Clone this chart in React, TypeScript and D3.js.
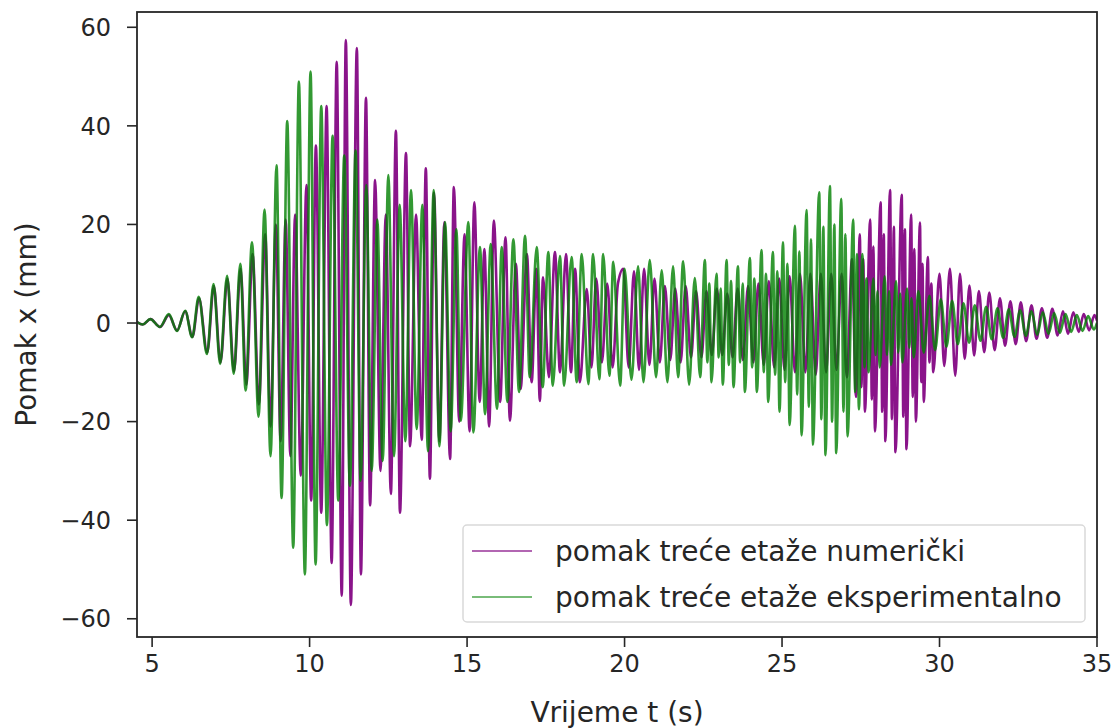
import React from "react";
import * as d3 from "d3";

const xTicks = [5, 10, 15, 20, 25, 30, 35];
const yTicks = [-60, -40, -20, 0, 20, 40, 60];
const seriesLabels = ["pomak treće etaže numerički", "pomak treće etaže eksperimentalno"];
const xLabel = "Vrijeme t (s)";
const yLabel = "Pomak x (mm)";

// numerical (purple) extrema [t, mm]
const numericalOnset: [number, number][] = [
  [4.52, 0.2], [4.7, -0.3], [4.95, 0.8], [5.25, -0.8], [5.53, 1.6], [5.79, -1.5], [6.05, 2.4], [6.28, -2.8],
  [6.49, 5.0], [6.75, -6.0], [6.96, 7.5], [7.17, -8.0], [7.39, 9.0], [7.6, -9.8], [7.81, 11.0], [7.99, -12.5],
  [8.19, 14.0], [8.39, -16.5], [8.59, 18.0], [8.76, -21.0], [8.93, 20.0], [9.08, -24.0], [9.24, 21.0], [9.39, -27.0],
  [9.54, 22.0], [9.72, -31.0], [9.9, 28.0], [10.05, -36.0], [10.2, 36.0], [10.37, -38.5], [10.54, 44.0], [10.7, -48.7],
  [10.86, 53.0], [11.02, -55.3], [11.15, 57.4], [11.31, -57.2], [11.5, 55.8], [11.63, -51.0], [11.79, 45.7], [11.92, -37.0],
];
const numericalDecay: [number, number][] = [
  [12.08, 29.0], [12.25, -30.0], [12.42, 22.0], [12.58, -34.7], [12.74, 39.0], [12.87, -38.5], [13.06, 34.5], [13.19, -25.0],
  [13.38, 22.0], [13.56, -23.7], [13.69, 31.4], [13.82, -31.6], [13.95, 26.4], [14.12, -24.0], [14.28, 20.5], [14.46, -27.6],
  [14.58, 27.6], [14.75, -20.0], [14.92, 18.0], [15.08, -22.0], [15.23, 24.5], [15.4, -16.0], [15.55, 15.0], [15.7, -21.0],
  [15.85, 20.8], [16.05, -16.0], [16.22, 17.4], [16.36, -19.8], [16.55, 12.0], [16.7, -13.4], [16.9, 14.0], [17.05, -12.0],
  [17.2, 11.0], [17.31, -15.8], [17.41, 9.3], [17.6, -11.0], [17.79, 14.4], [17.95, -10.0], [18.14, 14.0], [18.3, -10.0],
  [18.43, 11.0], [18.58, -12.0], [18.8, 6.9], [18.95, -9.0], [19.1, 9.0], [19.28, -8.0], [19.45, 8.0], [19.62, -9.0],
  [19.79, 8.0], [19.96, 11.0],
];
const numericalMiddle: [number, number][] = [
  [20.13, -9.0], [20.3, 10.5], [20.46, -9.5], [20.62, 11.0], [20.79, -8.5], [20.95, 9.0], [21.12, -8.0], [21.28, 7.5],
  [21.45, -7.5], [21.61, 7.0], [21.78, -8.0], [21.94, 7.5], [22.11, -7.0], [22.27, 6.5], [22.44, -7.0], [22.6, 6.5],
  [22.77, -6.5], [22.93, 7.0], [23.1, -6.5], [23.26, 6.0], [23.43, -7.0], [23.59, 7.0], [23.76, -7.5], [23.92, 7.5],
  [24.09, -8.0], [24.25, 8.0], [24.42, -8.5], [24.58, 8.5], [24.75, -9.0], [24.91, 9.0], [25.08, -9.5], [25.24, 9.5],
  [25.41, -10.0], [25.57, 10.0], [25.74, -10.0], [25.9, 10.0], [26.07, -10.5], [26.23, 10.0], [26.4, -10.0], [26.56, 10.0],
  [26.73, -9.5], [26.89, 10.0], [27.06, -11.0], [27.22, 13.0], [27.35, -15.0],
];
const numericalSecondBurst: [number, number][] = [
  [27.47, 18.0], [27.52, -13.0], [27.58, 13.0], [27.63, -18.0],
  [27.8, 21.0], [27.85, -15.5], [27.9, 15.5], [27.95, -22.0],
  [28.13, 24.5], [28.18, -18.0], [28.23, 18.0], [28.28, -24.0],
  [28.43, 27.0], [28.49, -19.5], [28.55, 19.5], [28.6, -26.2],
  [28.8, 26.0], [28.85, -19.0], [28.9, 19.0], [28.95, -25.6],
  [29.1, 22.0], [29.15, -15.0], [29.2, 15.0], [29.25, -20.0],
  [29.38, 20.4], [29.42, -12.0], [29.46, 12.0], [29.5, -16.0],
  [29.63, 13.4], [29.68, -8.0], [29.74, 8.0], [29.8, -10.0],
  [30.0, 10.0], [30.15, -8.7], [30.33, 11.0], [30.5, -10.7], [30.65, 10.0], [30.8, -7.3], [30.95, 7.6], [31.1, -6.6],
  [31.25, 6.5], [31.42, -5.9], [31.58, 6.2], [31.75, -5.5], [31.92, 5.0], [32.08, -4.6], [32.25, 4.4], [32.42, -4.3],
  [32.58, 4.2], [32.75, -3.7], [32.92, 3.6], [33.08, -3.2], [33.25, 3.0], [33.42, -3.0], [33.58, 2.9], [33.75, -2.5],
  [33.92, 2.4], [34.08, -2.2], [34.25, 2.2], [34.42, -1.8], [34.58, 1.8], [34.75, -1.5], [34.92, 1.6], [35.0, 0.5],
];

// experimental (green) extrema [t, mm]
const experimentalOnset: [number, number][] = [
  [4.52, 0.2], [4.7, -0.3], [4.94, 0.8], [5.25, -0.8], [5.53, 1.8], [5.79, -1.6], [6.05, 2.5], [6.27, -2.9],
  [6.48, 5.3], [6.74, -6.3], [6.95, 7.9], [7.16, -8.3], [7.38, 9.6], [7.59, -10.3], [7.8, 12.0], [7.97, -13.7],
  [8.17, 16.4], [8.38, -19.0], [8.57, 23.0], [8.76, -27.0], [8.95, 32.0], [9.11, -35.5], [9.29, 41.0], [9.48, -45.6],
  [9.66, 49.0], [9.85, -51.0], [10.03, 51.0], [10.19, -49.0],
];
const experimentalDecay: [number, number][] = [
  [10.37, 44.0], [10.55, -41.0], [10.73, 38.0], [10.91, -36.0], [11.1, 34.0], [11.28, -33.0], [11.46, 35.0], [11.62, -32.0],
  [11.8, 28.0], [11.97, -30.0], [12.15, 21.0], [12.32, -28.0], [12.5, 30.0], [12.68, -27.0], [12.86, 24.0], [13.04, -24.0],
  [13.22, 27.0], [13.4, -21.5], [13.58, 24.0], [13.76, -26.0], [13.94, 27.0], [14.12, -25.0], [14.3, 20.5], [14.48, -22.0],
  [14.66, 19.0], [14.8, -19.8], [15.04, 20.5], [15.2, -22.2], [15.41, 15.4], [15.57, -18.5], [15.75, 16.0], [15.95, -17.4],
  [16.1, 15.4], [16.28, -16.0], [16.47, 17.0], [16.65, -14.0], [16.84, 17.7], [16.99, -11.0], [17.21, 15.4], [17.4, -13.0],
  [17.58, 14.4], [17.72, -12.7], [17.95, 13.6], [18.08, -12.7], [18.32, 13.4], [18.48, -12.0], [18.64, 14.0], [18.85, -12.4],
  [19.0, 14.0], [19.2, -11.4], [19.32, 14.0], [19.52, -10.7], [19.64, 12.4], [19.86, -12.7],
];
const experimentalMiddle: [number, number][] = [
  [20.0, 11.0], [20.22, -11.5], [20.43, 11.5], [20.6, -12.0], [20.8, 12.8], [21.0, -11.0], [21.18, 10.7], [21.36, -12.0],
  [21.54, 11.5], [21.7, -11.0], [21.86, 12.5], [22.05, -12.5], [22.23, 9.1], [22.4, -11.0],
];
const experimentalSecondBurst: [number, number][] = [
  [22.55, 12.8], [22.63, -8.0], [22.69, 8.0], [22.76, -12.0],
  [22.92, 10.0], [22.99, -7.0], [23.05, 7.0], [23.12, -12.5],
  [23.24, 12.8], [23.31, -8.5], [23.38, 8.5], [23.46, -13.0],
  [23.6, 11.5], [23.67, -8.0], [23.75, 8.0], [23.82, -14.0],
  [23.98, 13.2], [24.05, -9.0], [24.12, 9.0], [24.2, -14.0],
  [24.35, 14.8], [24.42, -10.0], [24.49, 10.0], [24.56, -16.0],
  [24.71, 14.4], [24.78, -10.5], [24.85, 10.5], [24.92, -18.0],
  [25.03, 16.4], [25.1, -12.0], [25.17, 12.0], [25.24, -20.7],
  [25.41, 19.7], [25.48, -14.5], [25.55, 14.5], [25.62, -22.8],
  [25.78, 22.9], [25.85, -17.0], [25.92, 17.0], [25.98, -24.7],
  [26.18, 26.5], [26.25, -19.5], [26.31, 19.5], [26.38, -26.8],
  [26.52, 27.8], [26.59, -20.0], [26.66, 20.0], [26.72, -26.4],
  [26.88, 25.2], [26.95, -18.0], [27.01, 18.0], [27.08, -23.0],
  [27.26, 21.0], [27.32, -14.0], [27.38, 14.0], [27.44, -17.5],
  [27.55, 14.0], [27.62, -9.0], [27.68, 9.0], [27.75, -10.0],
  [27.9, 9.0], [27.97, -6.5], [28.03, 6.5], [28.1, -9.0],
  [28.26, 9.5], [28.33, -6.5], [28.4, 6.5], [28.46, -8.5],
  [28.62, 8.5], [28.69, -6.0], [28.75, 6.0], [28.82, -8.0],
  [28.97, 7.0], [29.04, -5.0], [29.11, 5.0], [29.18, -7.0],
];
const experimentalTail: [number, number][] = [
  [29.33, 6.5], [29.5, -6.0], [29.68, 5.5], [29.86, -5.5], [30.04, 4.8], [30.22, -4.8], [30.4, 4.5], [30.58, -4.3],
  [30.76, 4.0], [30.94, -4.0], [31.12, 3.6], [31.3, -3.6], [31.48, 3.3], [31.66, -3.3], [31.84, 3.0], [32.02, -3.0],
  [32.2, 2.8], [32.38, -2.8], [32.56, 2.6], [32.74, -2.6], [32.92, 2.4], [33.1, -2.4], [33.28, 2.2], [33.46, -2.2],
  [33.64, 2.0], [33.82, -2.0], [34.0, 1.8], [34.18, -1.8], [34.36, 1.6], [34.54, -1.6], [34.72, 1.4], [34.9, -1.3],
  [35.0, 0.0],
];

const numerical = [...numericalOnset, ...numericalDecay, ...numericalMiddle, ...numericalSecondBurst];
const experimental = [...experimentalOnset, ...experimentalDecay, ...experimentalMiddle, ...experimentalSecondBurst, ...experimentalTail];

const PURPLE = "#800080";
const GREEN = "#008000";
const FONT = "'DejaVu Sans', sans-serif";

export default function App() {
  const W = 1116, H = 728;
  const left = 137, right = 1097, top = 12, bottom = 637;
  const x = d3.scaleLinear().domain([4.52, 35]).range([left, right]);
  const y = d3.scaleLinear().domain([-63.7, 63.1]).range([bottom, top]);
  const line = d3.line<[number, number]>()
    .x((d) => x(d[0]))
    .y((d) => y(d[1]))
    .curve(d3.curveMonotoneX);

  const legendX = 463, legendY = 525, legendW = 622, legendH = 97;
  const rows = [551, 597];
  const colors = [PURPLE, GREEN];
  const opac = [0.8, 0.7];

  return (
    <svg width={W} height={H} style={{ position: "absolute", left: 0, top: 0, background: "#fff" }} fontFamily={FONT}>
      <defs>
        <clipPath id="plotclip">
          <rect x={left} y={top} width={right - left} height={bottom - top} />
        </clipPath>
      </defs>
      <rect x={0} y={0} width={W} height={H} fill="#fff" />
      <g clipPath="url(#plotclip)" fill="none">
        <path d={line(numerical) || ""} stroke={PURPLE} strokeOpacity={0.92} strokeWidth={2.6} />
        <path d={line(experimental) || ""} stroke={GREEN} strokeOpacity={0.8} strokeWidth={2.6} />
      </g>
      {/* legend */}
      <rect x={legendX} y={legendY} width={legendW} height={legendH} rx={4} fill="#fff" fillOpacity={0.8} stroke="#d9d9d9" strokeWidth={1.5} />
      {seriesLabels.map((lab, i) => (
        <g key={lab}>
          <line x1={472} x2={532} y1={rows[i]} y2={rows[i]} stroke={colors[i]} strokeOpacity={opac[i]} strokeWidth={1.6} />
          <text x={555} y={rows[i]} dy="0.35em" fontSize={28} fill="#262626">{lab}</text>
        </g>
      ))}
      {/* axes frame */}
      <rect x={left} y={top} width={right - left} height={bottom - top} fill="none" stroke="#262626" strokeWidth={1.8} />
      {xTicks.map((t) => (
        <g key={"x" + t}>
          <line x1={x(t)} x2={x(t)} y1={bottom} y2={bottom + 10} stroke="#262626" strokeWidth={1.6} />
          <text x={x(t)} y={672} textAnchor="middle" fontSize={24} fill="#262626">{t}</text>
        </g>
      ))}
      {yTicks.map((t) => (
        <g key={"y" + t}>
          <line x1={left - 10} x2={left} y1={y(t)} y2={y(t)} stroke="#262626" strokeWidth={1.6} />
          <text x={111} y={y(t)} dy="0.36em" textAnchor="end" fontSize={24} fill="#262626">{t < 0 ? "\u2212" + Math.abs(t) : t}</text>
        </g>
      ))}
      <text x={(left + right) / 2} y={722} textAnchor="middle" fontSize={28} fill="#262626">{xLabel}</text>
      <text transform={`translate(36, ${(top + bottom) / 2}) rotate(-90)`} textAnchor="middle" fontSize={28} fill="#262626">{yLabel}</text>
    </svg>
  );
}
